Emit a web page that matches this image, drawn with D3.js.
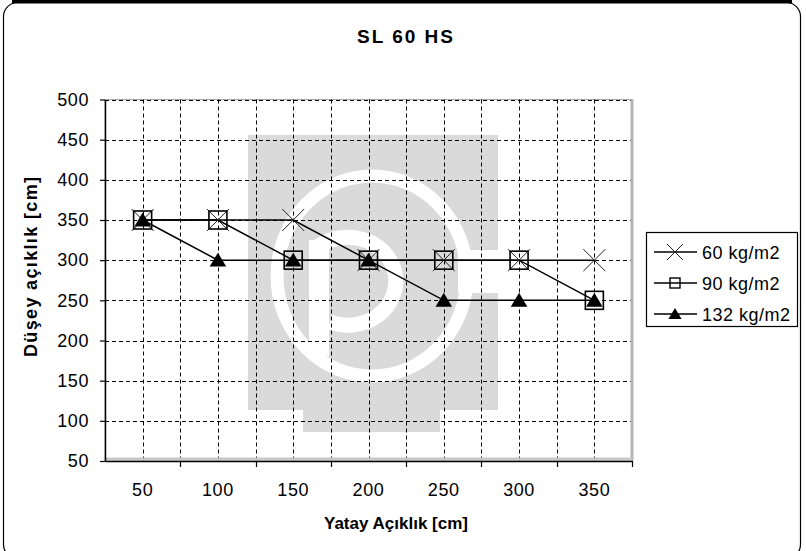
<!DOCTYPE html>
<html>
<head>
<meta charset="utf-8">
<script src="https://cdn.jsdelivr.net/npm/d3@7/dist/d3.min.js"></script>
<style>
  html, body { margin: 0; padding: 0; background: #fff; }
  svg { display: block; }
  text { font-family: "Liberation Sans", Arial, sans-serif; fill: #000; }
</style>
</head>
<body>
<svg id="chart" width="806" height="551"></svg>
<script>
// ---- data ----
const categories = [50, 100, 150, 200, 250, 300, 350];
const series60 = [350, 350, 350, 300, 300, 300, 300];
const series90 = [350, 350, 300, 300, 300, 300, 250];
const series132 = [350, 300, 300, 300, 250, 250, 250];
const seriesNames = ["60 kg/m2", "90 kg/m2", "132 kg/m2"];
const yTicks = [50, 100, 150, 200, 250, 300, 350, 400, 450, 500];
const chartTitle = "SL 60 HS";
const xTitle = "Yatay Açıklık [cm]";
const yTitle = "Düşey açıklık [cm]";

const svg = d3.select("#chart");
const L = 105, R = 632, T = 99.5, B = 461;

// frame
svg.append("rect").attr("x", 3.5).attr("y", 2.5).attr("width", 797).attr("height", 556)
  .attr("rx", 14).attr("fill", "#fff").attr("stroke", "#000").attr("stroke-width", 1.2);
svg.append("line").attr("x1", 12).attr("x2", 792).attr("y1", 1.5).attr("y2", 1.5)
  .attr("stroke", "#000").attr("stroke-width", 4);

const x = d3.scaleBand().domain(categories).range([L, R]).paddingInner(0).paddingOuter(0);
const bw = x.bandwidth();
const cx = d => x(d) + bw / 2;
const y = d3.scaleLinear().domain([50, 500]).range([B, T]);

// plot area background
svg.append("rect").attr("x", L).attr("y", T).attr("width", R - L).attr("height", B - T)
  .attr("fill", "#fff").attr("stroke", "#a8a8a8").attr("stroke-width", 1);

// watermark (logo)
const wm = svg.append("g");
const wmc = "#dadada";
wm.append("rect").attr("x", 248).attr("y", 135).attr("width", 250).attr("height", 275).attr("fill", wmc);
wm.append("rect").attr("x", 303).attr("y", 408).attr("width", 137).attr("height", 24).attr("fill", wmc);
// white C ring
wm.append("ellipse").attr("cx", 372).attr("cy", 276).attr("rx", 95).attr("ry", 100)
  .attr("fill", "none").attr("stroke", "#fff").attr("stroke-width", 13);
wm.append("rect").attr("x", 458).attr("y", 250).attr("width", 40).attr("height", 43).attr("fill", "#fff");
// white P
wm.append("rect").attr("x", 309).attr("y", 240).attr("width", 20).attr("height", 116).attr("fill", "#fff");
wm.append("path").attr("d", "M319,246 A48,44 0 1 1 330,322")
  .attr("fill", "none").attr("stroke", "#fff").attr("stroke-width", 15);

// gridlines
const grid = svg.append("g").attr("stroke", "#000").attr("stroke-width", 1).attr("stroke-dasharray", "4,3");
grid.selectAll(".hg").data(yTicks.filter(v => v > 50)).join("line")
  .attr("x1", L).attr("x2", R).attr("y1", d => Math.round(y(d)) + 0.5).attr("y2", d => Math.round(y(d)) + 0.5);
grid.selectAll(".vc").data(categories).join("line")
  .attr("x1", d => Math.round(cx(d)) + 0.5).attr("x2", d => Math.round(cx(d)) + 0.5)
  .attr("y1", T).attr("y2", B);
grid.selectAll(".vb").data(categories.slice(0, -1)).join("line")
  .attr("x1", d => Math.round(x(d) + bw) + 0.5).attr("x2", d => Math.round(x(d) + bw) + 0.5)
  .attr("y1", T).attr("y2", B);

// plot area shadow (right / bottom)
svg.append("line").attr("x1", R).attr("x2", R).attr("y1", T).attr("y2", B)
  .attr("stroke", "#b4b4b4").attr("stroke-width", 3);
svg.append("line").attr("x1", L).attr("x2", R).attr("y1", B - 2).attr("y2", B - 2)
  .attr("stroke", "#c8c8c8").attr("stroke-width", 3);

// y axis
const yAxis = d3.axisLeft(y).tickValues(yTicks).tickSize(5).tickSizeOuter(0).tickPadding(11);
const gy = svg.append("g").attr("transform", `translate(${L},0)`).call(yAxis);
gy.select(".domain").attr("stroke", "#000").attr("stroke-width", 1.5);
gy.selectAll(".tick line").attr("stroke", "#000").attr("stroke-width", 1.2);
gy.selectAll(".tick text").attr("font-size", 18).attr("letter-spacing", "0.6px")
  .attr("font-family", "Liberation Sans, Arial, sans-serif").attr("fill", "#111");

// x axis
const xAxis = d3.axisBottom(x).tickSize(0).tickSizeOuter(0).tickPadding(22);
const gx = svg.append("g").attr("transform", `translate(0,${B})`).call(xAxis);
gx.select(".domain").attr("stroke", "#000").attr("stroke-width", 1.5);
gx.selectAll(".tick text").attr("font-size", 18).attr("letter-spacing", "0.6px")
  .attr("font-family", "Liberation Sans, Arial, sans-serif").attr("fill", "#111");
// boundary tick marks
svg.append("g").selectAll("line").data(categories).join("line")
  .attr("x1", d => Math.round(x(d) + bw) + 0.5).attr("x2", d => Math.round(x(d) + bw) + 0.5)
  .attr("y1", B).attr("y2", B + 6).attr("stroke", "#000").attr("stroke-width", 1.2);

// series lines
const line = d3.line().x((d, i) => cx(categories[i])).y(d => y(d));
const allSeries = [series60, series90, series132];
svg.append("g").selectAll("path").data(allSeries).join("path")
  .attr("d", d => line(d)).attr("fill", "none").attr("stroke", "#000").attr("stroke-width", 1.5);

// markers
function drawX(g, px, py, s, w) {
  g.append("path").attr("d", `M${px - s},${py - s}L${px + s},${py + s}M${px - s},${py + s}L${px + s},${py - s}`)
    .attr("stroke", "#222").attr("stroke-width", w).attr("fill", "none");
}
function drawSq(g, px, py, s, w) {
  g.append("rect").attr("x", px - s).attr("y", py - s).attr("width", 2 * s).attr("height", 2 * s)
    .attr("fill", "none").attr("stroke", "#000").attr("stroke-width", w);
}
function drawTri(g, px, py, s) {
  g.append("path").attr("d", `M${px},${py - s}L${px + s * 1.1},${py + s * 0.85}L${px - s * 1.1},${py + s * 0.85}Z`)
    .attr("fill", "#000");
}
const mk = svg.append("g");
series60.forEach((v, i) => drawX(mk, cx(categories[i]), y(v), 11, 1));
series90.forEach((v, i) => drawSq(mk, cx(categories[i]), y(v), 9, 1.6));
series132.forEach((v, i) => drawTri(mk, cx(categories[i]), y(v), 7.5));

// legend
const lg = svg.append("g");
lg.append("rect").attr("x", 646.5).attr("y", 232.5).attr("width", 151).attr("height", 94)
  .attr("fill", "#fff").attr("stroke", "#000").attr("stroke-width", 1.2);
const rowsY = [252, 283, 314];
seriesNames.forEach((name, i) => {
  const ry = rowsY[i];
  lg.append("line").attr("x1", 654).attr("x2", 697).attr("y1", ry).attr("y2", ry)
    .attr("stroke", "#000").attr("stroke-width", 1.3);
  if (i === 0) drawX(lg, 675, ry, 8, 1);
  if (i === 1) drawSq(lg, 675, ry, 5, 1.4);
  if (i === 2) drawTri(lg, 675, ry, 6);
  lg.append("text").attr("x", 702).attr("y", ry + 6.5).attr("font-size", 18)
    .attr("letter-spacing", "0.5px").attr("fill", "#111").text(name);
});

// titles
svg.append("text").attr("x", 405).attr("y", 43).attr("text-anchor", "middle")
  .attr("font-size", 19).attr("font-weight", "bold").attr("textLength", 96)
  .attr("lengthAdjust", "spacing").text(chartTitle);
svg.append("text").attr("x", 396).attr("y", 529).attr("text-anchor", "middle")
  .attr("font-size", 17).attr("font-weight", "bold").text(xTitle);
svg.append("text").attr("transform", "translate(37,267) rotate(-90)").attr("text-anchor", "middle")
  .attr("font-size", 18).attr("font-weight", "bold").attr("textLength", 180)
  .attr("lengthAdjust", "spacing").text(yTitle);
</script>
</body>
</html>
